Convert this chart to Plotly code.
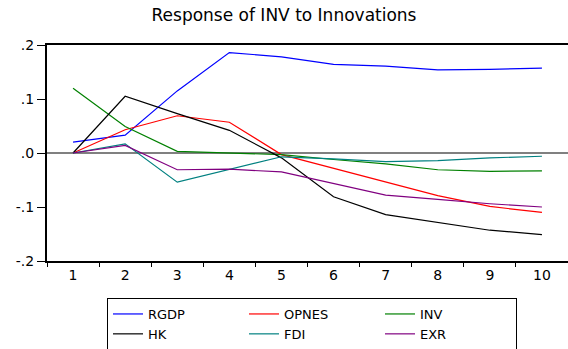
import plotly.graph_objects as go

# Impulse-response horizon (periods)
periods = [1, 2, 3, 4, 5, 6, 7, 8, 9, 10]

# Responses of INV to one-S.D. innovations in each variable
rgdp = [0.020, 0.033, 0.115, 0.186, 0.178, 0.164, 0.161, 0.154, 0.155, 0.157]
opnes = [0.000, 0.043, 0.069, 0.057, -0.003, -0.028, -0.054, -0.079, -0.099, -0.110]
inv = [0.120, 0.049, 0.003, 0.000, -0.003, -0.012, -0.020, -0.031, -0.034, -0.033]
hk = [0.000, 0.105, 0.073, 0.042, -0.009, -0.081, -0.114, -0.128, -0.143, -0.151]
fdi = [0.000, 0.017, -0.054, -0.031, -0.007, -0.011, -0.016, -0.014, -0.009, -0.006]
exr = [0.000, 0.014, -0.031, -0.030, -0.035, -0.057, -0.078, -0.086, -0.094, -0.100]

series_names = ["RGDP", "OPNES", "INV", "HK", "FDI", "EXR"]
series_values = [rgdp, opnes, inv, hk, fdi, exr]
series_colors = ["#0000FF", "#FF0000", "#008000", "#000000", "#008080", "#800080"]

y_tick_vals = [0.2, 0.1, 0.0, -0.1, -0.2]
y_tick_text = [".2", ".1", ".0", "-.1", "-.2"]

title_text = "Response of INV to Innovations"

label_font = "DejaVu Sans, sans-serif"

fig = go.Figure()
for name, vals, col in zip(series_names, series_values, series_colors):
    fig.add_trace(go.Scatter(
        x=periods, y=vals, mode="lines", name=name,
        line=dict(color=col, width=1.2),
    ))

# Invisible helper trace carrying the category-boundary ticks of the x axis
fig.add_trace(go.Scatter(x=[], y=[], showlegend=False, xaxis="x2"))

fig.update_layout(
    width=568, height=349,
    margin=dict(l=47, r=0, t=45, b=88),
    paper_bgcolor="white", plot_bgcolor="white",
    font=dict(family=label_font, size=14, color="black"),
    title=dict(text=title_text, x=0.5, xref="container", xanchor="center",
               y=0.957, yref="container", yanchor="middle",
               font=dict(family=label_font, size=17, color="black")),
    showlegend=True,
    legend=dict(
        orientation="h", x=107 / 568, y=1 - 298 / 349,
        xref="container", yref="container",
        xanchor="left", yanchor="top",
        bordercolor="black", borderwidth=1, bgcolor="white",
        entrywidth=91, entrywidthmode="pixels",
        font=dict(family=label_font, size=13),
        tracegroupgap=0, itemwidth=30,
    ),
    xaxis2=dict(
        overlaying="x", side="bottom", range=[0.5, 10.5],
        tickmode="array", tickvals=[p - 0.5 for p in periods] + [10.5],
        showticklabels=False, ticks="outside", ticklen=5, tickwidth=1,
        tickcolor="black", showgrid=False, zeroline=False, showline=False,
    ),
    xaxis=dict(
        range=[0.5, 10.5], tickmode="array", tickvals=periods,
        ticktext=[str(p) for p in periods],
        showgrid=False, zeroline=False,
        showline=True, linecolor="black", linewidth=2, mirror=True,
        ticks="", tickfont=dict(family=label_font, size=14),
    ),
)

fig.update_yaxes(
    range=[-0.2, 0.2], tickmode="array", tickvals=y_tick_vals, ticktext=y_tick_text,
    showgrid=False, zeroline=True, zerolinecolor="#808080", zerolinewidth=2,
    showline=True, linecolor="black", linewidth=2,
    ticks="outside", ticklen=8, tickwidth=1, tickcolor="black",
    tickfont=dict(family=label_font, size=14),
)

fig.write_html("out.html")
